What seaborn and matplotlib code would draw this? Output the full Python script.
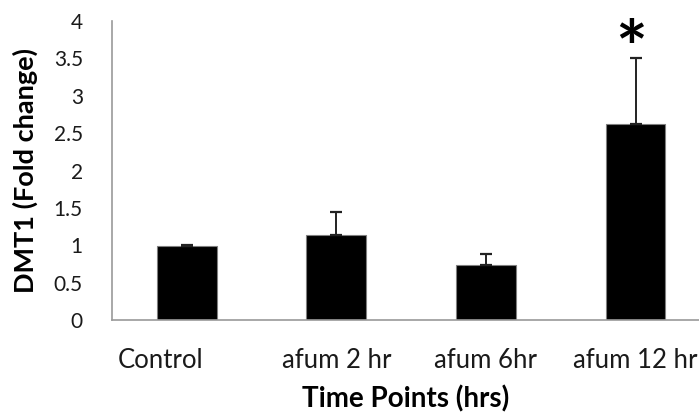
import matplotlib
matplotlib.use("Agg")
import matplotlib.pyplot as plt
import matplotlib.transforms as mtransforms
import seaborn as sns
import pandas as pd
import numpy as np

# Data
categories = ["Control", "afum 2 hr", "afum 6hr", "afum 12 hr"]
fold_change = [0.99, 1.14, 0.74, 2.62]
error_upper = [0.01, 0.30, 0.14, 0.88]
significance = ["", "", "", "*"]
y_ticks = [0, 0.5, 1, 1.5, 2, 2.5, 3, 3.5, 4]
y_tick_labels = ["0", "0.5", "1", "1.5", "2", "2.5", "3", "3.5", "4"]

sns.set_theme(style="white")
plt.rcParams["font.family"] = ["Lato", "DejaVu Sans"]

axis_gray = "#9a9a9a"
text_col = "#1a1a1a"

fig = plt.figure(figsize=(6.99, 4.15), dpi=100)
ax = fig.add_axes([0.1602, 0.2289, 0.8398, 0.7205])

df = pd.DataFrame({"category": categories, "value": fold_change})
sns.barplot(data=df, x="category", y="value", color="black", width=0.4,
            edgecolor="#7f7f7f", linewidth=0.8, saturation=1, ax=ax)

pos = np.arange(len(categories))
ax.errorbar(pos, fold_change, yerr=[np.zeros(len(pos)), error_upper],
            fmt="none", ecolor="#222222", elinewidth=1.4, capsize=4,
            capthick=1.6, zorder=3)

# significance markers above the error bars
for x, v, e, s in zip(pos, fold_change, error_upper, significance):
    if s:
        ax.annotate(s, xy=(x, v + e), xytext=(-3, -11), textcoords="offset points",
                    ha="center", va="baseline", fontsize=54, fontweight="bold",
                    color="black")

ax.set_ylim(0, 4)
ax.set_xlim(-0.5, 3.424)
ax.set_yticks(y_ticks)
ax.set_yticklabels(y_tick_labels)

# category boundary ticks (major) and category labels (minor)
ax.set_xticks([-0.5] + list(pos[:-1] + 0.5))
ax.set_xticklabels([""] * 4)
ax.set_xticks(pos, minor=True)
ax.set_xticklabels(categories, minor=True)
ax.tick_params(axis="x", which="minor", length=0, pad=20, labelsize=18.5,
               labelcolor=text_col)
ax.tick_params(axis="x", which="major", length=7, width=1, color=axis_gray,
               direction="out")
ax.tick_params(axis="y", length=7, width=1, color=axis_gray, direction="out",
               labelsize=15, labelcolor=text_col, pad=14)

# "Control" label sits a bit left of its bar
lbl = ax.get_xticklabels(minor=True)[0]
lbl.set_transform(lbl.get_transform() +
                  mtransforms.ScaledTranslation(-26 / 100, 0, fig.dpi_scale_trans))

for side in ["top", "right"]:
    ax.spines[side].set_visible(False)
for side in ["left", "bottom"]:
    ax.spines[side].set_color(axis_gray)
    ax.spines[side].set_linewidth(1.2)

ax.set_xlabel("Time Points (hrs)", fontsize=20, fontweight="bold",
              color="black", labelpad=9)
ax.set_ylabel("DMT1 (Fold change)", fontsize=19.5, fontweight="bold",
              color="black", labelpad=11)

fig.savefig("out.png", dpi=100)
